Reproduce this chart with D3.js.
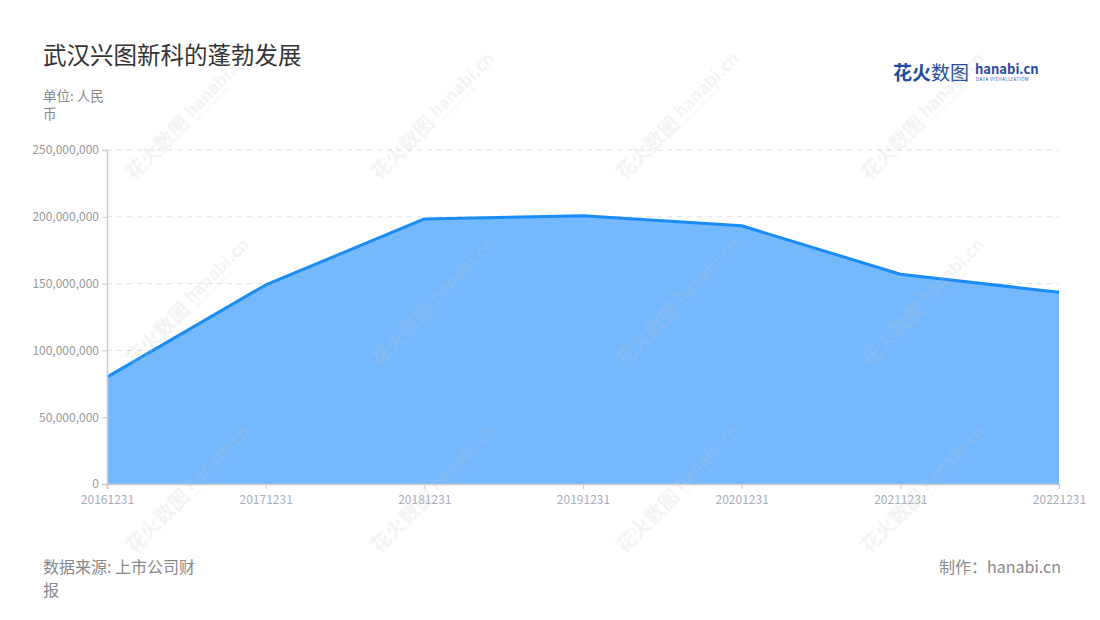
<!DOCTYPE html>
<html><head><meta charset="utf-8">
<script src="https://cdn.jsdelivr.net/npm/d3@7"></script>
<style>
body{margin:0;background:#fff;}
text{font-family:"Noto Sans CJK SC","Noto Sans",sans-serif;}
</style></head>
<body><svg id="c" width="1100" height="620"></svg>
<script>
const categories = ["20161231","20171231","20181231","20191231","20201231","20211231","20221231"];
const values = [80000000,149000000,198400000,200800000,193300000,157000000,143500000];
const yTicks = [0,50000000,100000000,150000000,200000000,250000000];

const svg = d3.select("#c");
const M = {l:107, r:1059, t:150, b:484};
const x = d3.scalePoint().domain(categories).range([M.l, M.r]);
const y = d3.scaleLinear().domain([0,250000000]).range([M.b, M.t]);
const data = categories.map((c,i)=>({c, v:values[i]}));

const wmX = [183,428,673,918], wmY = [124,310,497];

// title & texts
svg.append("text").attr("x",43).attr("y",64).attr("font-size",23.5).attr("fill","#333").text("武汉兴图新科的蓬勃发展");
svg.append("text").attr("x",43).attr("y",101).attr("font-size",13.5).attr("fill","#888").text("单位: 人民");
svg.append("text").attr("x",43).attr("y",119).attr("font-size",13.5).attr("fill","#888").text("币");
svg.append("text").attr("x",43).attr("y",573).attr("font-size",16).attr("fill","#888").text("数据来源: 上市公司财");
svg.append("text").attr("x",43).attr("y",596).attr("font-size",16).attr("fill","#888").text("报");
svg.append("text").attr("x",1061).attr("y",573).attr("font-size",16).attr("fill","#888").attr("text-anchor","end").text("制作：hanabi.cn");

// logo
const logo = svg.append("g").attr("transform","translate(893,80)");
logo.append("text").attr("x",0).attr("y",0).attr("font-size",19).attr("font-weight",700).attr("fill","#1f4d9c").text("花火");
logo.append("text").attr("x",38).attr("y",0).attr("font-size",19).attr("fill","#1f4d9c").text("数图");
logo.append("text").attr("x",82).attr("y",-6).attr("font-size",13).attr("font-weight",700).attr("fill","#1f4d9c").attr("font-family","Lato, sans-serif").text("hanabi.cn");
logo.append("text").attr("x",83).attr("y",1).attr("font-size",4.5).attr("fill","#1f4d9c").attr("letter-spacing","0.5").text("DATA VISUALIZATION");

// grid
svg.append("g").selectAll("line").data(yTicks.slice(1)).join("line")
  .attr("x1",M.l).attr("x2",M.r).attr("y1",d=>y(d)).attr("y2",d=>y(d))
  .attr("stroke","#e0e0e0").attr("stroke-dasharray","5,5");

// area
const area = d3.area().x(d=>x(d.c)).y0(y(0)).y1(d=>y(d.v));
svg.append("path").datum(data).attr("d",area).attr("fill","#74b8fe");
const line = d3.line().x(d=>x(d.c)).y(d=>y(d.v));
svg.append("path").datum(data).attr("d",line).attr("fill","none").attr("stroke","#1a8cf5").attr("stroke-width",3).attr("stroke-linejoin","round");

// axes
const ya = svg.append("g").attr("transform",`translate(${M.l},0)`)
  .call(d3.axisLeft(y).tickValues(yTicks).tickSize(5).tickPadding(3).tickFormat(d3.format(",")));
ya.select(".domain").attr("stroke","#ccc").attr("stroke-width",1.5);
ya.selectAll(".tick line").attr("stroke","#ccc");
ya.selectAll(".tick text").attr("fill","#999").attr("font-size",12).attr("font-family","Noto Sans, sans-serif");

const xa = svg.append("g").attr("transform",`translate(0,${M.b})`)
  .call(d3.axisBottom(x).tickSize(5).tickPadding(6));
xa.select(".domain").attr("stroke","#ccc").attr("stroke-width",1.5);
xa.selectAll(".tick line").attr("stroke","#ccc");
xa.selectAll(".tick text").attr("fill","#a9adbb").attr("font-size",12).attr("font-family","Noto Sans, sans-serif");

const wm = svg.append("g").attr("pointer-events","none");
wmY.forEach(cy=>wmX.forEach(cx=>{
  const g = wm.append("g").attr("transform",`translate(${cx},${cy}) rotate(-45)`).attr("opacity",0.18);
  g.append("text").attr("x",-75).attr("y",6).attr("font-size",20).attr("font-weight",700).attr("fill","#c8c8c8").text("花火数图");
  g.append("text").attr("x",10).attr("y",2).attr("font-size",17).attr("font-weight",700).attr("fill","#c8c8c8").attr("font-family","Lato, sans-serif").text("hanabi.cn");
  g.append("text").attr("x",11).attr("y",9).attr("font-size",5).attr("fill","#c8c8c8").text("DATA VISUALIZATION");
}));
</script></body></html>
